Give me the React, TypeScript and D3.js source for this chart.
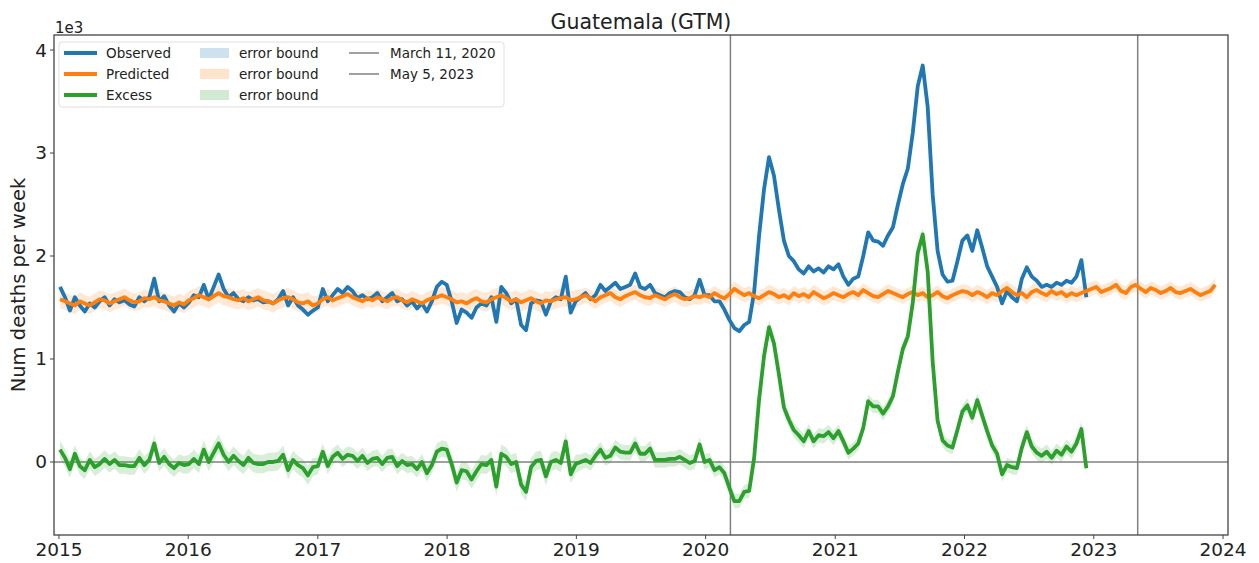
import React from 'react';
import * as d3 from 'd3';

// weekly deaths (every second week)
const observed2015 = [1700, 1600, 1470, 1600, 1520, 1460, 1540, 1500, 1560, 1600, 1520, 1580, 1550, 1570, 1530, 1510, 1600, 1560, 1600, 1780, 1560, 1610, 1520, 1460, 1540, 1500];
const observed2016 = [1550, 1620, 1600, 1720, 1580, 1700, 1820, 1680, 1600, 1640, 1580, 1560, 1600, 1570, 1580, 1550, 1560, 1540, 1580, 1660, 1520, 1600, 1520, 1480, 1430, 1470];
const observed2017 = [1500, 1680, 1560, 1620, 1680, 1640, 1700, 1660, 1590, 1620, 1580, 1600, 1640, 1560, 1600, 1640, 1560, 1580, 1520, 1560, 1490, 1540, 1460, 1560, 1700, 1750];
const observed2018 = [1720, 1560, 1350, 1480, 1450, 1400, 1500, 1540, 1520, 1600, 1360, 1700, 1640, 1540, 1580, 1330, 1280, 1540, 1570, 1560, 1430, 1560, 1600, 1580, 1800, 1450];
const observed2019 = [1560, 1600, 1640, 1580, 1620, 1720, 1660, 1700, 1740, 1680, 1700, 1720, 1830, 1700, 1680, 1720, 1640, 1620, 1600, 1640, 1660, 1650, 1600, 1580, 1620, 1770];
const observed2020 = [1620, 1620, 1560, 1560, 1480, 1380, 1300, 1270, 1330, 1360, 1650, 2200, 2650, 2960, 2780, 2450, 2150, 2000, 1950, 1870, 1830, 1900, 1850, 1880, 1840, 1900];
const observed2021 = [1870, 1920, 1800, 1720, 1780, 1800, 2000, 2230, 2150, 2140, 2100, 2200, 2280, 2500, 2700, 2850, 3200, 3650, 3850, 3450, 2600, 2050, 1820, 1750, 1760, 1950];
const observed2022 = [2150, 2200, 2050, 2250, 2080, 1900, 1800, 1700, 1540, 1660, 1600, 1560, 1780, 1890, 1800, 1760, 1700, 1720, 1700, 1740, 1720, 1760, 1740, 1800, 1960, 1600];

const predicted2015 = [1580, 1560, 1540, 1520, 1560, 1540, 1520, 1550, 1580, 1570, 1540, 1560, 1580, 1600, 1570, 1550, 1560, 1590, 1580, 1600, 1570, 1560, 1540, 1520, 1550, 1530];
const predicted2016 = [1570, 1590, 1620, 1600, 1580, 1610, 1640, 1610, 1600, 1580, 1570, 1590, 1560, 1580, 1600, 1570, 1560, 1540, 1570, 1590, 1600, 1580, 1550, 1540, 1560, 1520];
const predicted2017 = [1540, 1580, 1600, 1570, 1590, 1610, 1630, 1600, 1580, 1560, 1590, 1570, 1600, 1580, 1560, 1590, 1600, 1570, 1550, 1580, 1560, 1540, 1570, 1590, 1600, 1620];
const predicted2018 = [1600, 1580, 1550, 1560, 1540, 1570, 1590, 1560, 1550, 1580, 1600, 1620, 1590, 1560, 1580, 1550, 1570, 1590, 1560, 1540, 1570, 1560, 1580, 1590, 1600, 1570];
const predicted2019 = [1580, 1600, 1620, 1590, 1560, 1600, 1620, 1640, 1600, 1580, 1610, 1630, 1650, 1620, 1600, 1590, 1620, 1600, 1580, 1610, 1630, 1600, 1580, 1590, 1610, 1600];
const predicted2020 = [1620, 1600, 1640, 1610, 1590, 1630, 1680, 1650, 1620, 1640, 1610, 1590, 1620, 1650, 1630, 1600, 1620, 1590, 1640, 1610, 1630, 1600, 1650, 1620, 1590, 1610];
const predicted2021 = [1640, 1620, 1600, 1630, 1650, 1620, 1670, 1640, 1610, 1600, 1630, 1660, 1640, 1620, 1600, 1630, 1650, 1620, 1640, 1600, 1620, 1650, 1610, 1590, 1620, 1640];
const predicted2022 = [1660, 1650, 1620, 1650, 1630, 1600, 1640, 1620, 1660, 1690, 1650, 1620, 1640, 1600, 1650, 1670, 1640, 1620, 1660, 1630, 1650, 1610, 1640, 1620, 1640, 1660];
const predicted2023 = [1680, 1700, 1650, 1670, 1690, 1720, 1660, 1640, 1700, 1720, 1680, 1650, 1690, 1670, 1640, 1660, 1690, 1650, 1640, 1660, 1680, 1650, 1620, 1640, 1660, 1720];

// half width of the error bands, one value per year 2015..2023
const bandHalfWidth = [85, 90, 80, 90, 75, 70, 65, 70, 65];

const yearTicks = [2015, 2016, 2017, 2018, 2019, 2020, 2021, 2022, 2023, 2024];
const yTicks = [0, 1000, 2000, 3000, 4000];
const markers = [
  { date: new Date(2020, 2, 11), label: 'March 11, 2020' },
  { date: new Date(2023, 4, 5), label: 'May 5, 2023' },
];

const observed = [...observed2015, ...observed2016, ...observed2017, ...observed2018, ...observed2019, ...observed2020, ...observed2021, ...observed2022];
const predicted = [...predicted2015, ...predicted2016, ...predicted2017, ...predicted2018, ...predicted2019, ...predicted2020, ...predicted2021, ...predicted2022, ...predicted2023];

const START = new Date(2015, 0, 4);
const dateAt = (i: number) => d3.timeDay.offset(START, i * 14);

const W = 1259, H = 563;
const left = 54, right = 1228, top = 35, bottom = 535;
const FONT = '"DejaVu Sans", sans-serif';
const BLUE = '#1f77b4', ORANGE = '#ff7f0e', GREEN = '#2ca02c', GRAY = '#808080';

export default function App() {
  const x = d3.scaleTime().domain([new Date(2014, 11, 18), new Date(2024, 0, 15)]).range([left, right]);
  const y = d3.scaleLinear().domain([-709, 4146]).range([bottom, top]);

  const predPts = predicted.map((v, i) => ({ d: dateAt(i), v, hw: bandHalfWidth[Math.min(8, dateAt(i).getFullYear() - 2015)] }));
  const obsPts = observed.map((v, i) => ({ d: dateAt(i), v }));
  const excPts = observed.map((v, i) => ({ d: dateAt(i), v: v - predicted[i], hw: predPts[i].hw }));

  const line = d3.line<any>().x(p => x(p.d)).y(p => y(p.v));
  const band = d3.area<any>().x(p => x(p.d)).y0(p => y(p.v - p.hw)).y1(p => y(p.v + p.hw));

  const legendRows = [53, 74, 95];
  const lines = [
    { label: 'Observed', color: BLUE },
    { label: 'Predicted', color: ORANGE },
    { label: 'Excess', color: GREEN },
  ];

  return (
    <svg width={W} height={H} style={{ position: 'absolute', left: 0, top: 0, background: '#fff' }} fontFamily={FONT}>
      <defs>
        <clipPath id="plot"><rect x={left} y={top} width={right - left} height={bottom - top} /></clipPath>
      </defs>
      <text x={(left + right) / 2} y={29} textAnchor="middle" fontSize={20.5} fill="#222">Guatemala (GTM)</text>
      <text x={left + 1} y={33} fontSize={15} fill="#222">1e3</text>

      <g clipPath="url(#plot)">
        <line x1={left} x2={right} y1={y(0)} y2={y(0)} stroke={GRAY} strokeWidth={1.5} />
        {markers.map(m => (
          <line key={m.label} x1={x(m.date)} x2={x(m.date)} y1={top} y2={bottom} stroke={GRAY} strokeWidth={1.5} />
        ))}
        <path d={band(predPts) || ''} fill={ORANGE} fillOpacity={0.17} />
        <path d={band(excPts) || ''} fill={GREEN} fillOpacity={0.18} />
        <path d={line(obsPts) || ''} fill="none" stroke={BLUE} strokeWidth={3.8} strokeLinejoin="round" />
        <path d={line(predPts) || ''} fill="none" stroke={ORANGE} strokeWidth={3.8} strokeLinejoin="round" />
        <path d={line(excPts) || ''} fill="none" stroke={GREEN} strokeWidth={3.8} strokeLinejoin="round" />
      </g>

      <rect x={left} y={top} width={right - left} height={bottom - top} fill="none" stroke="#444" strokeWidth={1.3} />

      {yearTicks.map(yr => {
        const xx = x(new Date(yr, 0, 1));
        return (
          <g key={yr}>
            <line x1={xx} x2={xx} y1={bottom} y2={bottom + 4} stroke="#444" strokeWidth={1} />
            <text x={xx} y={bottom + 21} textAnchor="middle" fontSize={18.5} fill="#222">{yr}</text>
          </g>
        );
      })}
      {yTicks.map(t => (
        <g key={t}>
          <line x1={left - 4} x2={left} y1={y(t)} y2={y(t)} stroke="#444" strokeWidth={1} />
          <text x={left - 7} y={y(t)} dy="0.35em" textAnchor="end" fontSize={18.5} fill="#222">{t / 1000}</text>
        </g>
      ))}
      <text transform={`translate(25, ${(top + bottom) / 2}) rotate(-90)`} textAnchor="middle" fontSize={19.5} fill="#222">Num deaths per week</text>

      <g>
        <rect x={59} y={42} width={445} height={65} rx={3} fill="#fff" fillOpacity={0.8} stroke="#e0e0e0" />
        {lines.map((l, i) => (
          <g key={l.label}>
            <line x1={64} x2={97} y1={legendRows[i]} y2={legendRows[i]} stroke={l.color} strokeWidth={4} />
            <text x={106} y={legendRows[i]} dy="0.35em" fontSize={13.5} fill="#222">{l.label}</text>
            <rect x={200} y={legendRows[i] - 5} width={29} height={10} fill={l.color} fillOpacity={0.22} />
            <text x={239} y={legendRows[i]} dy="0.35em" fontSize={13.5} fill="#222">error bound</text>
          </g>
        ))}
        {markers.map((m, i) => (
          <g key={m.label}>
            <line x1={349} x2={379} y1={legendRows[i]} y2={legendRows[i]} stroke={GRAY} strokeWidth={1.5} />
            <text x={390} y={legendRows[i]} dy="0.35em" fontSize={13.5} fill="#222">{m.label}</text>
          </g>
        ))}
      </g>
    </svg>
  );
}
